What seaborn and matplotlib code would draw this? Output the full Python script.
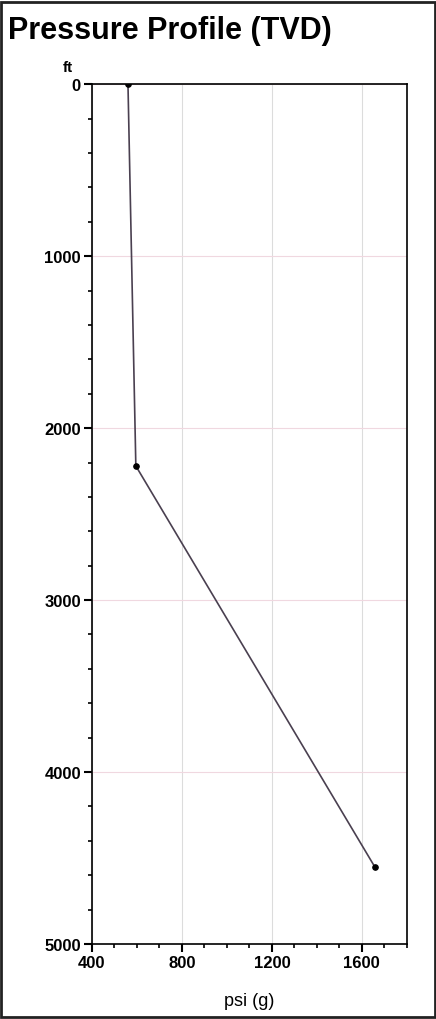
import seaborn as sns
import matplotlib.pyplot as plt
import pandas as pd
from matplotlib.ticker import MultipleLocator

sns.set_style("white")
plt.rcParams['font.family'] = ['Liberation Sans', 'DejaVu Sans']
plt.rcParams['text.color'] = 'black'
plt.rcParams['xtick.color'] = 'black'
plt.rcParams['ytick.color'] = 'black'
plt.rcParams['axes.labelcolor'] = 'black'

# pressure profile readings
pressure_psi = [560, 595, 1658]
depth_ft = [0, 2220, 4552]

x_ticks = [400, 800, 1200, 1600]
y_ticks = [0, 1000, 2000, 3000, 4000, 5000]

df = pd.DataFrame({"psi": pressure_psi, "ft": depth_ft})

fig = plt.figure(figsize=(4.36, 10.20), dpi=100)
ax = fig.add_axes([0.211, 0.0735, 0.722, 0.843])

sns.lineplot(data=df, x="psi", y="ft", sort=False, ax=ax,
             color="#4a4050", linewidth=1.2, marker="o", markersize=4,
             markerfacecolor="black", markeredgecolor="black")

ax.set_xlim(400, 1800)
ax.set_ylim(5000, 0)
ax.set_xticks(x_ticks)
ax.set_yticks(y_ticks)
ax.xaxis.set_minor_locator(MultipleLocator(100))
ax.yaxis.set_minor_locator(MultipleLocator(200))
ax.tick_params(axis="both", which="major", direction="out", length=6, width=1.5,
               labelsize=12, left=True, bottom=True, pad=2)
ax.tick_params(axis="both", which="minor", direction="out", length=3, width=1.2,
               left=True, bottom=True)
for lbl in ax.get_xticklabels() + ax.get_yticklabels():
    lbl.set_fontweight("bold")

ax.grid(True, which="major", axis="x", color="#dcdcdc", linewidth=0.8)
ax.grid(True, which="major", axis="y", color="#f0d8e0", linewidth=0.8)
for s in ax.spines.values():
    s.set_color("black")
    s.set_linewidth(1.2)

ax.set_xlabel("psi (g)", fontsize=13, labelpad=16)
ax.set_ylabel("")
fig.text(68 / 436, 1 - 68 / 1020, "ft", fontsize=11, fontweight="bold",
         ha="center", va="center")
fig.text(8 / 436, 1 - 31 / 1020, "Pressure Profile (TVD)", fontsize=22,
         fontweight="bold", ha="left", va="center")

# outer frame
fig.patches.append(plt.Rectangle((0.003, 0.002), 0.994, 0.995, transform=fig.transFigure,
                                 fill=False, edgecolor="#222222", linewidth=2))

fig.savefig("out.png", dpi=100)
